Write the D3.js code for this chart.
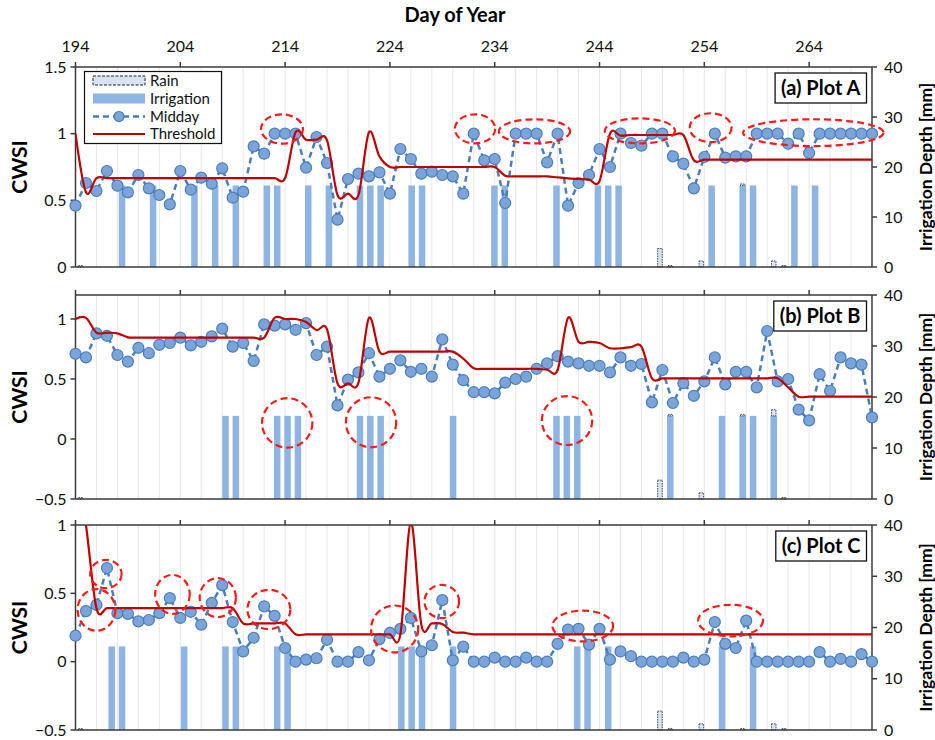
<!DOCTYPE html>
<html>
<head>
<meta charset="utf-8">
<script src="https://cdn.jsdelivr.net/npm/d3@7"></script>
<style>
  body { margin: 0; background: #fff; }
  svg { display: block; font-family: Lato, "Open Sans", sans-serif; }
</style>
</head>
<body>
<div id="chart"></div>
<script>
// ---- data (day of year 194..270, one value per day) ----
const dayStart = 194;
const dayEnd = 270;
const topTickDays = [194, 204, 214, 224, 234, 244, 254, 264];
const depthTicks = [0, 10, 20, 30, 40];
const cwsiTicksA = [0, 0.5, 1, 1.5];
const cwsiTicksB = [-0.5, 0, 0.5, 1];
const cwsiTicksC = [-0.5, 0, 0.5, 1];
const panelNames = ["(a) Plot A", "(b) Plot B", "(c) Plot C"];

const middayA = [
  0.46, 0.63, 0.57, 0.72, 0.61, 0.56, 0.69, 0.59, 0.54, 0.47,
  0.72, 0.58, 0.67, 0.625, 0.74, 0.52, 0.565, 0.905, 0.85, 1.0,
  1.0, 1.0, 0.745, 0.975, 0.78, 0.355, 0.66, 0.70, 0.68, 0.71,
  0.55, 0.885, 0.81, 0.70, 0.715, 0.69, 0.68, 0.55, 1.0, 0.80,
  0.81, 0.48, 1.0, 1.0, 1.0, 0.785, 1.0, 0.46, 0.63, 0.69,
  0.885, 0.75, 1.0, 0.93, 0.91, 1.0, 1.0, 0.83, 0.775, 0.59,
  0.825, 1.0, 0.82, 0.83, 0.83, 1.0, 1.0, 1.0, 0.925, 1.0,
  0.855, 1.0, 1.0, 1.0, 1.0, 1.0, 1.0
];
const middayB = [
  0.71, 0.68, 0.88, 0.86, 0.70, 0.645, 0.76, 0.715, 0.785, 0.80,
  0.845, 0.78, 0.81, 0.855, 0.92, 0.77, 0.80, 0.65, 0.955, 0.945,
  0.955, 0.91, 0.965, 0.70, 0.77, 0.28, 0.495, 0.555, 0.715, 0.52,
  0.585, 0.655, 0.56, 0.585, 0.52, 0.83, 0.62, 0.49, 0.39, 0.39,
  0.38, 0.47, 0.50, 0.52, 0.585, 0.63, 0.69, 0.645, 0.63, 0.61,
  0.61, 0.555, 0.68, 0.61, 0.625, 0.305, 0.575, 0.30, 0.465, 0.36,
  0.48, 0.68, 0.455, 0.56, 0.56, 0.43, 0.90, 0.48, 0.50, 0.245,
  0.155, 0.54, 0.40, 0.68, 0.63, 0.62, 0.18
];
const middayC = [
  0.19, 0.37, 0.415, 0.685, 0.355, 0.35, 0.295, 0.305, 0.355, 0.465,
  0.32, 0.365, 0.27, 0.43, 0.56, 0.29, 0.075, 0.175, 0.405, 0.335,
  0.10, 0.0, 0.015, 0.025, 0.16, 0.0, 0.0, 0.07, 0.01, 0.165,
  0.21, 0.24, 0.32, 0.075, 0.12, 0.45, 0.01, 0.11, 0.0, 0.0,
  0.03, 0.0, 0.0, 0.03, 0.0, 0.0, 0.13, 0.235, 0.24, 0.125,
  0.24, 0.015, 0.075, 0.04, 0.0, 0.0, 0.0, 0.0, 0.03, 0.0,
  0.015, 0.29, 0.13, 0.10, 0.30, 0.0, 0.0, 0.0, 0.0, 0.0,
  0.0, 0.07, 0.0, 0.02, 0.0, 0.055, 0.0
];

const thresholdA = [
  1.0, 0.56, 0.667, 0.667, 0.667, 0.667, 0.667, 0.667, 0.667, 0.667,
  0.667, 0.667, 0.667, 0.667, 0.667, 0.667, 0.667, 0.667, 0.667, 0.667,
  0.667, 1.01, 0.955, 0.955, 0.95, 0.54, 0.55, 0.54, 1.01, 0.83,
  0.75, 0.75, 0.75, 0.75, 0.75, 0.75, 0.75, 0.75, 0.75, 0.75,
  0.75, 0.685, 0.68, 0.68, 0.68, 0.68, 0.672, 0.665, 0.66, 0.655,
  0.645, 1.0, 0.985, 0.99, 0.99, 0.99, 0.99, 0.99, 0.99, 0.80,
  0.805, 0.805, 0.805, 0.805, 0.805, 0.805, 0.805, 0.805, 0.805, 0.805,
  0.805, 0.805, 0.805, 0.805, 0.805, 0.805, 0.805
];
const thresholdB = [
  1.0, 1.01, 0.886, 0.886, 0.88, 0.847, 0.845, 0.845, 0.845, 0.845,
  0.845, 0.845, 0.845, 0.845, 0.845, 0.845, 0.845, 0.845, 0.845, 1.01,
  1.0, 1.0, 0.975, 0.908, 0.914, 0.464, 0.464, 0.47, 1.01, 0.728,
  0.728, 0.728, 0.728, 0.728, 0.728, 0.728, 0.728, 0.67, 0.59, 0.585,
  0.585, 0.585, 0.585, 0.585, 0.585, 0.578, 0.575, 1.01, 0.81, 0.81,
  0.80, 0.756, 0.756, 0.765, 0.77, 0.506, 0.506, 0.506, 0.506, 0.506,
  0.506, 0.506, 0.506, 0.506, 0.506, 0.506, 0.506, 0.506, 0.43, 0.353,
  0.353, 0.353, 0.353, 0.353, 0.353, 0.353, 0.353
];
const thresholdC = [
  1.5, 1.0, 0.39, 0.392, 0.392, 0.392, 0.392, 0.392, 0.392, 0.392,
  0.392, 0.392, 0.392, 0.392, 0.392, 0.392, 0.28, 0.28, 0.28, 0.28,
  0.28, 0.2, 0.2, 0.2, 0.2, 0.2, 0.2, 0.2, 0.2, 0.2,
  0.2, 0.2, 1.02, 0.27, 0.28, 0.275, 0.217, 0.212, 0.2, 0.2,
  0.2, 0.2, 0.2, 0.2, 0.2, 0.2, 0.2, 0.2, 0.2, 0.2,
  0.2, 0.2, 0.2, 0.2, 0.2, 0.2, 0.2, 0.2, 0.2, 0.2,
  0.2, 0.2, 0.2, 0.2, 0.2, 0.2, 0.2, 0.2, 0.2, 0.2,
  0.2, 0.2, 0.2, 0.2, 0.2, 0.2, 0.2
];

// irrigation events (days) and depth [mm] per plot
const irrigationDaysA = [198, 201, 205, 207, 209, 212, 213, 216, 218, 221, 222, 223, 226, 227,
  234, 235, 240, 244, 245, 246, 255, 258, 259, 263, 265];
const irrigationDaysB = [208, 209, 213, 214, 215, 221, 222, 223, 230, 240, 241, 242,
  251, 256, 258, 259, 261];
const irrigationDaysC = [197, 198, 204, 208, 209, 213, 214, 225, 226, 227, 230, 242, 243, 245, 256, 259];
const irrigationDepth = [16.3, 16.3, 16.3];

// rain [mm], same site for all plots
const rainDays = [194, 250, 251, 254, 258, 261, 262];
const rainDepth = [0.3, 3.7, 0.3, 1.2, 0.3, 1.2, 0.3];

// highlighted groups: [dayFrom, dayTo, cwsiTop, cwsiBottom]
const highlightsA = [
  [211.7, 215.7, 1.145, 0.925], [230.2, 234.05, 1.145, 0.927], [234.4, 241.2, 1.108, 0.927],
  [244.5, 251.2, 1.115, 0.927], [252.6, 256.6, 1.153, 0.937], [257.7, 271.1, 1.108, 0.907]
];
const highlightsB = [
  [211.8, 216.6, 0.34, -0.072], [219.8, 224.6, 0.348, -0.069], [238.5, 243.3, 0.358, -0.05]
];
const highlightsC = [
  [194.2, 197.8, 0.531, 0.226], [195.4, 198.4, 0.745, 0.538], [201.6, 204.9, 0.635, 0.35],
  [205.85, 209.3, 0.611, 0.326], [210.4, 214.5, 0.526, 0.239], [222.2, 226.7, 0.411, 0.068],
  [227.3, 230.6, 0.562, 0.319], [239.5, 245.3, 0.374, 0.148], [253.4, 259.6, 0.416, 0.185]
];

// ---- layout ----
const width = 935, height = 740;
const plotLeft = 75.5, plotRight = 872;
const panels = [
  { top: 67, bottom: 267, domain: [0, 1.5], ticks: cwsiTicksA, midday: middayA, threshold: thresholdA,
    irrig: irrigationDaysA, highlights: highlightsA, legend: true },
  { top: 295, bottom: 499, domain: [-0.5, 1.2], ticks: cwsiTicksB, midday: middayB, threshold: thresholdB,
    irrig: irrigationDaysB, highlights: highlightsB },
  { top: 525, bottom: 730, domain: [-0.5, 1], ticks: cwsiTicksC, midday: middayC, threshold: thresholdC,
    irrig: irrigationDaysC, highlights: highlightsC }
];

const colors = {
  bar: "#8db4e2",
  rainFill: "#d6e4f4",
  midLine: "#4a7ebb",
  midFill: "#7ba5da",
  threshold: "#c00000",
  ring: "#ff1a1a",
  axis: "#3a3a3a",
  grid: "#e8e8e8"
};

const days = d3.range(dayStart, dayEnd + 1);

const svg = d3.select("#chart").append("svg")
  .attr("width", width)
  .attr("height", height);

const x = d3.scaleLinear().domain([dayStart, dayEnd]).range([plotLeft, plotRight]);
// bars sit on a category axis with one slot per day
const band = d3.scaleBand().domain(days).range([plotLeft, plotRight])
  .paddingInner(0.37).paddingOuter(0.185);

// title + top tick labels
svg.append("text")
  .attr("x", 455).attr("y", 22)
  .attr("text-anchor", "middle")
  .attr("font-size", 20).attr("font-weight", "bold")
  .text("Day of Year");

svg.append("g").selectAll("text")
  .data(topTickDays)
  .join("text")
  .attr("x", d => x(d))
  .attr("y", 52)
  .attr("text-anchor", "middle")
  .attr("font-size", 16)
  .attr("fill", "#111")
  .text(d => d);

panels.forEach((p, i) => drawPanel(p, i));

function drawPanel(p, i) {
  const g = svg.append("g");
  const y = d3.scaleLinear().domain(p.domain).range([p.bottom, p.top]);
  const yDepth = d3.scaleLinear().domain([0, 40]).range([p.bottom, p.top]);

  const clipId = "clip" + i;
  g.append("clipPath").attr("id", clipId)
    .append("rect")
    .attr("x", plotLeft).attr("y", p.top)
    .attr("width", plotRight - plotLeft).attr("height", p.bottom - p.top);

  // vertical gridlines every 2 days
  g.append("g").selectAll("line")
    .data(days.filter(d => (d - dayStart) % 2 === 0 && d > dayStart && d < dayEnd))
    .join("line")
    .attr("x1", d => x(d)).attr("x2", d => x(d))
    .attr("y1", p.top).attr("y2", p.bottom)
    .attr("stroke", colors.grid).attr("stroke-width", 1);

  // irrigation bars
  const bw = band.bandwidth();
  g.append("g").selectAll("rect")
    .data(p.irrig)
    .join("rect")
    .attr("x", d => band(d))
    .attr("width", bw)
    .attr("y", yDepth(irrigationDepth[i]))
    .attr("height", yDepth(0) - yDepth(irrigationDepth[i]))
    .attr("fill", colors.bar);

  // rain, stacked on top of irrigation when both fall on the same day
  const rain = rainDays.map((d, k) => {
    const base = p.irrig.includes(d) ? irrigationDepth[i] : 0;
    return { day: d, y0: base, y1: base + rainDepth[k] };
  });
  const rw = bw * 0.7;
  g.append("g").selectAll("rect")
    .data(rain)
    .join("rect")
    .attr("x", d => band(d.day) + (bw - rw) / 2)
    .attr("width", rw)
    .attr("y", d => yDepth(d.y1))
    .attr("height", d => yDepth(d.y0) - yDepth(d.y1))
    .attr("fill", colors.rainFill)
    .attr("stroke", "#222")
    .attr("stroke-width", 0.8)
    .attr("stroke-dasharray", "1.5,1");

  // axes frame
  const frame = g.append("g").attr("stroke", colors.axis).attr("stroke-width", 1.5);
  frame.append("line").attr("x1", plotLeft).attr("x2", plotRight).attr("y1", p.top).attr("y2", p.top);
  frame.append("line").attr("x1", plotLeft).attr("x2", plotRight).attr("y1", p.bottom).attr("y2", p.bottom);
  frame.append("line").attr("x1", plotLeft).attr("x2", plotLeft).attr("y1", p.top).attr("y2", p.bottom);
  frame.append("line").attr("x1", plotRight).attr("x2", plotRight).attr("y1", p.top).attr("y2", p.bottom);

  // top tick marks
  frame.selectAll(".tt").data(topTickDays).join("line")
    .attr("x1", d => x(d)).attr("x2", d => x(d))
    .attr("y1", p.top).attr("y2", p.top - 5);

  // left CWSI axis
  frame.selectAll(".lt").data(p.ticks).join("line")
    .attr("x1", plotLeft - 5).attr("x2", plotLeft)
    .attr("y1", d => y(d)).attr("y2", d => y(d));
  g.append("g").selectAll("text").data(p.ticks).join("text")
    .attr("x", plotLeft - 9)
    .attr("y", d => y(d))
    .attr("dy", "0.35em")
    .attr("text-anchor", "end")
    .attr("font-size", 16).attr("fill", "#111")
    .text(d => d3.format("")(d));

  // right irrigation axis
  frame.selectAll(".rt").data(depthTicks).join("line")
    .attr("x1", plotRight).attr("x2", plotRight + 5)
    .attr("y1", d => yDepth(d)).attr("y2", d => yDepth(d));
  g.append("g").selectAll("text").data(depthTicks).join("text")
    .attr("x", plotRight + 12)
    .attr("y", d => yDepth(d))
    .attr("dy", "0.35em")
    .attr("font-size", 16).attr("fill", "#111")
    .text(d => d);

  const midY = (p.top + p.bottom) / 2;
  g.append("text")
    .attr("transform", `translate(20,${midY}) rotate(-90)`)
    .attr("text-anchor", "middle").attr("dy", "0.35em")
    .attr("font-size", 21).attr("font-weight", "bold")
    .text("CWSI");
  g.append("text")
    .attr("transform", `translate(926,${midY}) rotate(-90)`)
    .attr("text-anchor", "middle").attr("dy", "0.35em")
    .attr("font-size", 17.5).attr("font-weight", "bold")
    .text("Irrigation Depth [mm]");

  // midday CWSI: dashed line with circle markers
  const pts = p.midday.map((v, k) => ({ day: days[k], v }));
  g.append("path")
    .datum(pts)
    .attr("fill", "none")
    .attr("stroke", colors.midLine)
    .attr("stroke-width", 2.5)
    .attr("stroke-dasharray", "6,4")
    .attr("d", d3.line().x(d => x(d.day)).y(d => y(d.v)));
  g.append("g").selectAll("circle")
    .data(pts)
    .join("circle")
    .attr("cx", d => x(d.day))
    .attr("cy", d => y(d.v))
    .attr("r", 5.5)
    .attr("fill", colors.midFill)
    .attr("stroke", colors.midLine)
    .attr("stroke-width", 1.2);

  // threshold: smoothed line clipped to the plot area
  const thr = p.threshold.map((v, k) => ({ day: days[k], v }));
  g.append("path")
    .datum(thr)
    .attr("clip-path", `url(#${clipId})`)
    .attr("fill", "none")
    .attr("stroke", colors.threshold)
    .attr("stroke-width", 2.2)
    .attr("d", d3.line().curve(d3.curveCardinal.tension(0)).x(d => x(d.day)).y(d => y(d.v)));

  // highlighted points
  g.append("g").selectAll("ellipse")
    .data(p.highlights)
    .join("ellipse")
    .attr("cx", d => (x(d[0]) + x(d[1])) / 2)
    .attr("cy", d => (y(d[2]) + y(d[3])) / 2)
    .attr("rx", d => (x(d[1]) - x(d[0])) / 2)
    .attr("ry", d => (y(d[3]) - y(d[2])) / 2)
    .attr("fill", "none")
    .attr("stroke", colors.ring)
    .attr("stroke-width", 2.2)
    .attr("stroke-dasharray", "7,4");

  // panel label box
  const label = g.append("text")
    .attr("x", 0).attr("y", 0)
    .attr("font-size", 20).attr("font-weight", "bold")
    .text(panelNames[i]);
  const tw = label.node().getComputedTextLength();
  const bx = 866.5 - tw - 12, by = p.top + 6;
  g.insert("rect", () => label.node())
    .attr("x", bx).attr("y", by)
    .attr("width", tw + 12).attr("height", 30)
    .attr("fill", "#fff").attr("stroke", "#111").attr("stroke-width", 1.3);
  label.attr("x", bx + 6).attr("y", by + 22);

  if (p.legend) drawLegend(g);
}

function drawLegend(g) {
  const lg = g.append("g");
  lg.append("rect")
    .attr("x", 84.5).attr("y", 71.5).attr("width", 137).attr("height", 72)
    .attr("fill", "#fff").attr("stroke", "#111").attr("stroke-width", 1.2);
  const sx0 = 93, sx1 = 145, tx = 150;
  const rows = [80.5, 98.5, 116.5, 134];

  lg.append("rect").attr("x", sx0).attr("y", rows[0] - 4.5).attr("width", sx1 - sx0).attr("height", 9)
    .attr("fill", colors.rainFill).attr("stroke", "#222").attr("stroke-width", 1).attr("stroke-dasharray", "3,1.5");
  lg.append("rect").attr("x", sx0).attr("y", rows[1] - 5).attr("width", sx1 - sx0).attr("height", 10)
    .attr("fill", colors.bar);
  lg.append("line").attr("x1", sx0).attr("x2", sx1).attr("y1", rows[2]).attr("y2", rows[2])
    .attr("stroke", colors.midLine).attr("stroke-width", 2.5).attr("stroke-dasharray", "6,4");
  lg.append("circle").attr("cx", (sx0 + sx1) / 2).attr("cy", rows[2]).attr("r", 5)
    .attr("fill", colors.midFill).attr("stroke", colors.midLine).attr("stroke-width", 1.2);
  lg.append("line").attr("x1", sx0).attr("x2", sx1).attr("y1", rows[3]).attr("y2", rows[3])
    .attr("stroke", colors.threshold).attr("stroke-width", 2);

  lg.selectAll("text")
    .data(["Rain", "Irrigation", "Midday", "Threshold"])
    .join("text")
    .attr("x", tx)
    .attr("y", (d, k) => rows[k])
    .attr("dy", "0.35em")
    .attr("font-size", 15).attr("fill", "#111")
    .text(d => d);
}
</script>
</body>
</html>
